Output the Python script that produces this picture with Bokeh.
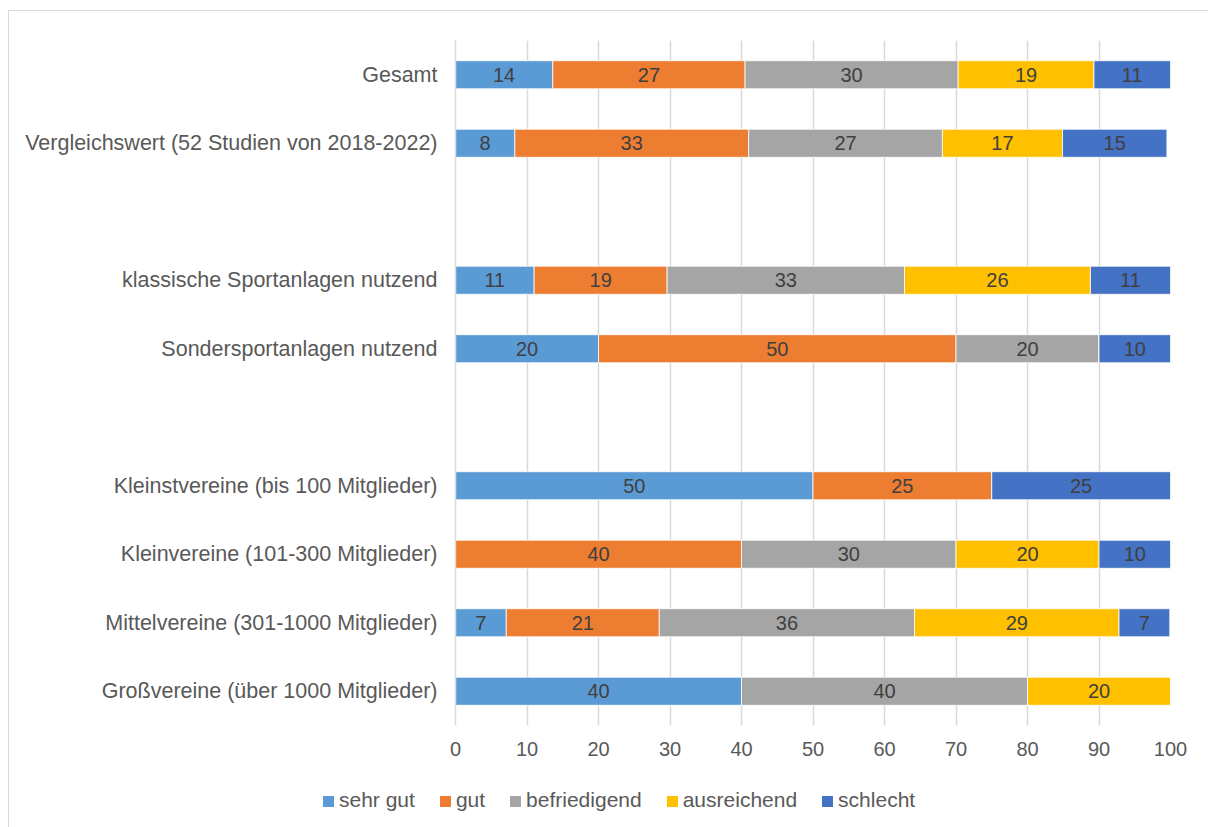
from bokeh.plotting import figure
from bokeh.models import ColumnDataSource, FactorRange, LabelSet, Div
from bokeh.layouts import column
from bokeh.core.properties import value
from bokeh.embed import file_html
from bokeh.resources import INLINE

categories = [
    "Gesamt",
    "Vergleichswert (52 Studien von 2018-2022)",
    " ",
    "klassische Sportanlagen nutzend",
    "Sondersportanlagen nutzend",
    "  ",
    "Kleinstvereine (bis 100 Mitglieder)",
    "Kleinvereine (101-300 Mitglieder)",
    "Mittelvereine (301-1000 Mitglieder)",
    "Großvereine (über 1000 Mitglieder)",
]
series = ["sehr gut", "gut", "befriedigend", "ausreichend", "schlecht"]
sehr_gut     = [13.6, 8.3, 0, 11.0, 20, 0, 50, 0, 7.1, 40]
gut          = [26.9, 32.7, 0, 18.6, 50, 0, 25, 40, 21.4, 0]
befriedigend = [29.8, 27.1, 0, 33.2, 20, 0, 0, 30, 35.7, 40]
ausreichend  = [19.0, 16.8, 0, 26.0, 0, 0, 0, 20, 28.6, 20]
schlecht     = [10.7, 14.6, 0, 11.2, 10, 0, 25, 10, 7.1, 0]
colors = ["#5B9BD5", "#ED7D31", "#A5A5A5", "#FFC000", "#4472C4"]
x_ticks = [0, 10, 20, 30, 40, 50, 60, 70, 80, 90, 100]

FONT = "Liberation Sans"
values = [sehr_gut, gut, befriedigend, ausreichend, schlecht]
data = {"cat": categories}
for name, vals in zip(series, values):
    data[name] = vals
source = ColumnDataSource(data)

p = figure(
    y_range=FactorRange(factors=list(reversed(categories)), range_padding=0),
    x_range=(0, 100),
    width=1198, height=765,
    output_backend="svg", toolbar_location=None,
    min_border_left=446, min_border_right=37, min_border_top=29, min_border_bottom=51,
)
p.outline_line_color = None

p.hbar_stack(series, y="cat", height=0.41, color=colors, source=source,
             line_color="white", line_width=0.8)

# bar labels
lx, ly, lt = [], [], []
for i, cat in enumerate(categories):
    left = 0.0
    for vals in values:
        v = vals[i]
        if v > 0:
            lx.append(left + v / 2)
            ly.append(cat)
            lt.append(str(int(v + 0.5)))
        left += v
lsrc = ColumnDataSource(dict(x=lx, y=ly, t=lt))
p.add_layout(LabelSet(x="x", y="y", text="t", source=lsrc, text_align="center",
                      text_baseline="middle", text_font=value(FONT), text_font_size="20px",
                      text_color="#404040"))

# axes
p.xaxis.ticker = x_ticks
p.xaxis.axis_line_color = None
p.xaxis.major_tick_line_color = None
p.xaxis.minor_tick_line_color = None
p.xaxis.major_label_text_font = FONT
p.xaxis.major_label_text_font_size = "20px"
p.xaxis.major_label_text_color = "#595959"
p.xaxis.major_label_standoff = 10

p.yaxis.axis_line_color = "#d9d9d9"
p.yaxis.axis_line_width = 1.5
p.yaxis.major_tick_line_color = None
p.yaxis.minor_tick_line_color = None
p.yaxis.major_label_text_font = FONT
p.yaxis.major_label_text_font_size = "21.5px"
p.yaxis.major_label_text_color = "#595959"
p.yaxis.major_label_standoff = 12

p.xgrid.grid_line_color = "#d9d9d9"
p.xgrid.grid_line_width = 1.5
p.ygrid.grid_line_color = None

# legend strip (HTML, so it can sit left of the plot frame like the original)
items_html = "".join(
    f'<span style="display:inline-block;width:11px;height:11px;background:{c};'
    f'margin-right:5px;position:relative;top:1px"></span>'
    f'<span style="margin-right:25px">{s}</span>'
    for s, c in zip(series, colors)
)
legend_div = Div(
    text=f'<div style="display:flex;align-items:center;height:38px;padding-left:309px;'
         f'font-family:\'{FONT}\';font-size:21px;color:#595959;white-space:nowrap">'
         f'{items_html}</div>',
    width=1198, height=46,
)

layout = column(p, legend_div, spacing=0)
layout.styles = {"border-left": "1px solid #d9d9d9", "border-top": "1px solid #d9d9d9",
                 "margin-left": "8px", "margin-top": "10px"}

open("out.html", "w").write(file_html(layout, INLINE))
